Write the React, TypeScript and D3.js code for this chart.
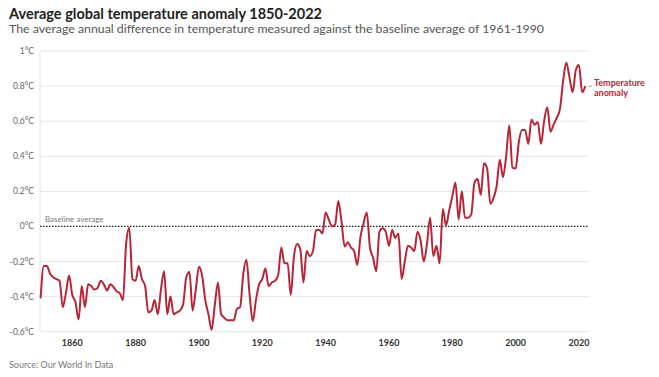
import React from "react";
import * as d3 from "d3";

const startYear = 1850;
const anomaly: number[] = [
  // 1850-1859
  -0.41, -0.226, -0.226, -0.27, -0.29, -0.30, -0.31, -0.46, -0.38, -0.28,
  // 1860-1869
  -0.39, -0.43, -0.53, -0.34, -0.46, -0.33, -0.34, -0.36, -0.35, -0.31,
  // 1870-1879
  -0.33, -0.365, -0.33, -0.345, -0.37, -0.38, -0.42, -0.10, -0.007, -0.30,
  // 1880-1889
  -0.31, -0.226, -0.30, -0.34, -0.49, -0.48, -0.42, -0.50, -0.36, -0.255,
  // 1890-1899
  -0.50, -0.40, -0.50, -0.49, -0.48, -0.445, -0.29, -0.26, -0.48, -0.36,
  // 1900-1909
  -0.23, -0.28, -0.42, -0.50, -0.59, -0.45, -0.32, -0.50, -0.52, -0.535,
  // 1910-1919
  -0.535, -0.535, -0.47, -0.46, -0.27, -0.19, -0.39, -0.54, -0.42, -0.33,
  // 1920-1929
  -0.30, -0.24, -0.34, -0.32, -0.31, -0.28, -0.12, -0.21, -0.21, -0.39,
  // 1930-1939
  -0.17, -0.10, -0.13, -0.32, -0.14, -0.17, -0.14, -0.02, -0.02, -0.04,
  // 1940-1949
  0.08, 0.04, 0.0, 0.01, 0.145, 0.03, -0.115, -0.09, -0.12, -0.14,
  // 1950-1959
  -0.22, -0.06, 0.02, 0.08, -0.12, -0.18, -0.255, -0.03, -0.01, -0.03,
  // 1960-1969
  -0.11, -0.02, -0.065, -0.04, -0.30, -0.20, -0.11, -0.12, -0.14, -0.03,
  // 1970-1979
  -0.08, -0.20, -0.10, 0.05, -0.17, -0.11, -0.21, 0.10, 0.005, 0.09,
  // 1980-1989
  0.17, 0.25, 0.04, 0.20, 0.05, 0.05, 0.07, 0.25, 0.27, 0.18,
  // 1990-1999
  0.36, 0.33, 0.13, 0.16, 0.23, 0.38, 0.28, 0.40, 0.575, 0.335,
  // 2000-2009
  0.33, 0.48, 0.55, 0.55, 0.47, 0.61, 0.58, 0.595, 0.47, 0.60,
  // 2010-2019
  0.68, 0.54, 0.58, 0.62, 0.67, 0.83, 0.935, 0.85, 0.765, 0.89,
  // 2020-2022
  0.92, 0.765, 0.80,
];

const yTicks: number[] = [-0.6, -0.4, -0.2, 0, 0.2, 0.4, 0.6, 0.8, 1];
const xTicks: number[] = [1860, 1880, 1900, 1920, 1940, 1960, 1980, 2000, 2020];

const title = "Average global temperature anomaly 1850-2022";
const subtitle =
  "The average annual difference in temperature measured against the baseline average of 1961-1990";
const source = "Source: Our World In Data";
const seriesLabel = ["Temperature", "anomaly"];
const baselineLabel = "Baseline average";

const W = 659;
const H = 377;
const RED = "#b72537";
const FONT = "Lato, 'Open Sans', sans-serif";

export default function App() {
  const data = anomaly.map((v, i) => ({ year: startYear + i, value: v }));
  const x = d3.scaleLinear().domain([1850, 2022]).range([40.6, 585.3]);
  const y = d3.scaleLinear().domain([-0.6, 1]).range([331.7, 51]);
  const plotLeft = 40;
  const plotRight = 589;

  const line = d3
    .line<{ year: number; value: number }>()
    .x((d) => x(d.year))
    .y((d) => y(d.value))
    .curve(d3.curveMonotoneX);

  const fmt = (d: number) => `${+d.toFixed(1)}°C`;
  const last = data[data.length - 1];

  return (
    <svg
      width={W}
      height={H}
      style={{ position: "absolute", left: 0, top: 0, background: "#fff" }}
      fontFamily={FONT}
    >
      <rect width={W} height={H} fill="#fff" />
      <text x={9} y={18.5} fontSize={14.5} fontWeight={700} fill="#222" textLength={313} lengthAdjust="spacingAndGlyphs">
        {title}
      </text>
      <text x={9} y={33} fontSize={12} fill="#555" textLength={535} lengthAdjust="spacingAndGlyphs">
        {subtitle}
      </text>

      {/* gridlines */}
      {yTicks.map((t) =>
        t === 0 ? null : (
          <line key={t} x1={plotLeft} x2={plotRight} y1={y(t)} y2={y(t)} stroke="#e6e6e6" strokeWidth={1} />
        )
      )}
      <line x1={plotLeft} x2={plotLeft} y1={y(1)} y2={y(-0.6)} stroke="#e6e6e6" strokeWidth={1} />

      {/* y labels */}
      {yTicks.map((t) => (
        <text key={t} x={34} y={y(t) + 3} fontSize={8.5} fill="#666" textAnchor="end">
          {fmt(t)}
        </text>
      ))}

      {/* baseline */}
      <line x1={plotLeft} x2={plotRight} y1={y(0)} y2={y(0)} stroke="#222" strokeWidth={1.2} strokeDasharray="1.5,1.5" />
      <text x={45} y={y(0) - 4} fontSize={8} fill="#777">
        {baselineLabel}
      </text>

      {/* x labels */}
      {xTicks.map((t) => (
        <text key={t} x={x(t)} y={346} fontSize={9} fontWeight={700} fill="#333" textAnchor="middle">
          {t}
        </text>
      ))}

      {/* series */}
      <path d={line(data) || ""} fill="none" stroke={RED} strokeWidth={2} strokeLinejoin="round" />

      {/* label */}
      <line x1={589} x2={592} y1={y(last.value)} y2={y(last.value)} stroke="#999" strokeWidth={1} />
      <text x={594} y={85.5} fontSize={9} fontWeight={700} fill={RED}>
        {seriesLabel[0]}
      </text>
      <text x={594} y={95.5} fontSize={9} fontWeight={700} fill={RED}>
        {seriesLabel[1]}
      </text>

      <text x={9} y={368} fontSize={9} fill="#777">
        {source}
      </text>
    </svg>
  );
}
